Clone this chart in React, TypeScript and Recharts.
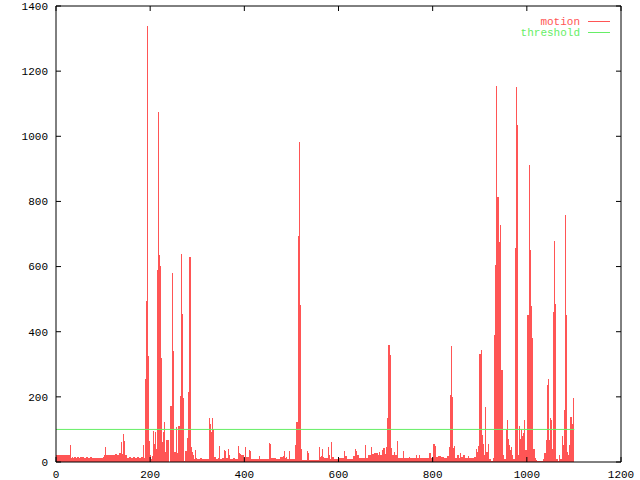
import { Area, ComposedChart, Line, ReferenceLine, XAxis, YAxis } from "recharts";

const RED = "#ff5555";
const GREEN = "#66ee66";
const FONT = "'Liberation Mono', 'DejaVu Sans Mono', monospace";

const xTicks = [0, 200, 400, 600, 800, 1000, 1200];
const yTicks = [0, 200, 400, 600, 800, 1000, 1200, 1400];
const threshold = 100;

// [frame, motion] pairs, one list per stretch of the clip
const openingFrames: [number, number][] = [
  [0, 21], [29, 52], [31, 13], [33, 16], [36, 13], [39, 16], [42, 12], [45, 16],
  [48, 13], [52, 16], [56, 15], [60, 13], [64, 15], [68, 12], [72, 15], [76, 12],
  [80, 13], [85, 11], [90, 12], [96, 12], [100, 14], [103, 22], [105, 45], [107, 22],
  [112, 21], [118, 23], [122, 21], [126, 25], [130, 22], [134, 28], [137, 35], [139, 62],
  [141, 24], [143, 86], [145, 65], [147, 20], [150, 12], [156, 15], [160, 11], [164, 16],
  [168, 12], [172, 14], [176, 11], [180, 14], [184, 52], [186, 12], [188, 45],
];

const firstBurst: [number, number][] = [
  [190, 254], [192, 493], [194, 1339], [196, 325], [198, 64], [200, 20], [202, 10],
  [204, 18], [206, 96], [208, 54], [210, 93], [212, 40], [215, 591], [217, 1075],
  [219, 634], [221, 603], [223, 320], [225, 60], [228, 93], [230, 123], [232, 31],
  [234, 67], [240, 1], [243, 172], [246, 579], [249, 340], [251, 31], [254, 108],
  [257, 28], [260, 112], [263, 202], [266, 640], [268, 453], [270, 197], [272, 2],
  [275, 35], [278, 73], [281, 214], [283, 628], [286, 47], [288, 31], [290, 20],
  [293, 10], [296, 38], [298, 12], [300, 9], [305, 12], [310, 8], [315, 10], [320, 9],
  [324, 12], [326, 134], [328, 118], [330, 92], [332, 134], [334, 100], [336, 14],
];

const middleFrames: [number, number][] = [
  [340, 9], [344, 12], [346, 50], [348, 10], [352, 11], [356, 36], [358, 33], [360, 12],
  [365, 41], [367, 20], [370, 10], [375, 12], [380, 8], [386, 48], [388, 27], [390, 25],
  [393, 22], [396, 22], [400, 12], [402, 47], [404, 14], [410, 36], [412, 33], [414, 10],
  [420, 9], [426, 10], [432, 18], [434, 8], [440, 9], [446, 8], [452, 59], [454, 55],
  [456, 12], [462, 11], [468, 9], [475, 14], [482, 18], [484, 33], [486, 12], [489, 16],
  [491, 8], [494, 33], [496, 28], [498, 8], [503, 10], [508, 53], [510, 123], [513, 272],
  [515, 695], [517, 983], [519, 481], [521, 40], [523, 7], [530, 6], [533, 33], [535, 28],
  [537, 6], [545, 6], [552, 7], [558, 47], [560, 16], [562, 18], [565, 40], [567, 16],
  [570, 11], [575, 11], [577, 47], [579, 21], [582, 10], [584, 61], [586, 16], [590, 8],
  [596, 8], [600, 11], [605, 11], [611, 34], [613, 18], [618, 8], [624, 8], [630, 17],
  [635, 40], [637, 35], [640, 20], [643, 11], [650, 11], [657, 51], [659, 11], [663, 20],
  [669, 47], [672, 26], [675, 27], [679, 28], [683, 20], [686, 31], [689, 22], [692, 38],
  [695, 42], [698, 24], [701, 45], [704, 134], [706, 358], [709, 328], [711, 42], [714, 22],
  [717, 30], [721, 22], [725, 64], [727, 11], [737, 34], [739, 11], [749, 16], [751, 11],
  [765, 20], [767, 11], [772, 20], [774, 12], [785, 12], [793, 29], [796, 12], [800, 54],
  [804, 49], [807, 16], [812, 18], [818, 14], [825, 12], [830, 18],
];

const finalBursts: [number, number][] = [
  [834, 47], [836, 113], [837, 205], [839, 356], [841, 200], [843, 42], [845, 49], [847, 12],
  [851, 20], [855, 12], [859, 27], [861, 15], [865, 22], [868, 12], [874, 17], [878, 12],
  [882, 12], [888, 14], [891, 40], [894, 30], [896, 50], [899, 331], [902, 343], [904, 83],
  [906, 55], [909, 20], [911, 168], [913, 30], [917, 55], [919, 8], [924, 4], [928, 12],
  [930, 20], [931, 390], [933, 604], [935, 1155], [937, 815], [940, 675], [942, 558],
  [944, 727], [946, 282], [949, 20], [952, 8], [955, 98], [957, 128], [959, 70], [962, 52],
  [964, 37], [967, 45], [969, 20], [971, 8], [974, 656], [977, 1152], [979, 1035], [981, 20],
  [983, 110], [985, 72], [987, 102], [989, 80], [991, 90], [993, 100], [995, 128], [997, 37],
  [1001, 451], [1005, 913], [1007, 652], [1009, 478], [1012, 380], [1014, 40], [1017, 13],
  [1019, 6], [1021, 3], [1034, 10], [1037, 28], [1041, 68], [1043, 236], [1045, 254],
  [1047, 68], [1049, 134], [1051, 128], [1053, 78], [1054, 40], [1055, 462], [1057, 677],
  [1059, 484], [1061, 20], [1063, 10], [1066, 3], [1068, 20], [1070, 10], [1074, 80],
  [1076, 52], [1078, 160], [1080, 511], [1082, 757], [1084, 451], [1086, 30], [1088, 20],
  [1090, 52], [1092, 137], [1095, 118], [1097, 10], [1099, 195], [1101, 195],
];

const data = [...openingFrames, ...firstBurst, ...middleFrames, ...finalBursts].map(
  ([frame, motion]) => ({ frame, motion })
);
const firstFrame = data[0].frame;
const lastFrame = data[data.length - 1].frame;

const tickStyle = { fill: "#000", fontSize: 11, fontFamily: FONT };
const blank = () => "";

function LegendOverlay() {
  const rows = [
    { label: "motion", color: RED, y: 21.5 },
    { label: "threshold", color: GREEN, y: 32.5 },
  ];
  return (
    <svg
      width={640}
      height={480}
      style={{ position: "absolute", left: 0, top: 0, pointerEvents: "none" }}
    >
      {rows.map((r) => (
        <g key={r.label}>
          <text
            x={580}
            y={r.y}
            textAnchor="end"
            dominantBaseline="central"
            fill={r.color}
            fontSize={11}
            fontFamily={FONT}
          >
            {r.label}
          </text>
          <line x1={588} x2={610} y1={r.y} y2={r.y} stroke={r.color} strokeWidth={1} />
        </g>
      ))}
    </svg>
  );
}

export default function App() {
  return (
    <div style={{ position: "absolute", left: 0, top: 0, width: 640, height: 480, background: "#fff" }}>
      <ComposedChart
        width={640}
        height={480}
        data={data}
        margin={{ top: 5, right: 18, bottom: 0, left: 0 }}
      >
        <XAxis
          dataKey="frame"
          type="number"
          domain={[0, 1200]}
          ticks={xTicks}
          height={18}
          stroke="#000"
          tickSize={-5}
          tickMargin={13}
          tick={tickStyle}
          interval={0}
        />
        <XAxis
          xAxisId="top"
          dataKey="frame"
          orientation="top"
          type="number"
          domain={[0, 1200]}
          ticks={xTicks}
          height={1}
          stroke="#000"
          tickSize={-5}
          tickFormatter={blank}
          interval={0}
        />
        <YAxis
          type="number"
          domain={[0, 1400]}
          ticks={yTicks}
          width={56}
          stroke="#000"
          tickSize={-5}
          tickMargin={13}
          tick={tickStyle}
          interval={0}
        />
        <YAxis
          yAxisId="right"
          orientation="right"
          type="number"
          domain={[0, 1400]}
          ticks={yTicks}
          width={1}
          stroke="#000"
          tickSize={-5}
          tickFormatter={blank}
          interval={0}
        />
        <Area
          dataKey="motion"
          type="stepAfter"
          stroke="none"
          fill={RED}
          fillOpacity={1}
          style={{ shapeRendering: "crispEdges" }}
          isAnimationActive={false}
          dot={false}
          activeDot={false}
        />
        {/* invisible twin so the mirrored top/right border axes get drawn */}
        <Line
          xAxisId="top"
          yAxisId="right"
          dataKey="motion"
          stroke="none"
          dot={false}
          activeDot={false}
          legendType="none"
          isAnimationActive={false}
        />
        <ReferenceLine
          segment={[
            { x: firstFrame, y: threshold },
            { x: lastFrame, y: threshold },
          ]}
          stroke={GREEN}
          strokeWidth={1}
        />
      </ComposedChart>
      <LegendOverlay />
    </div>
  );
}
